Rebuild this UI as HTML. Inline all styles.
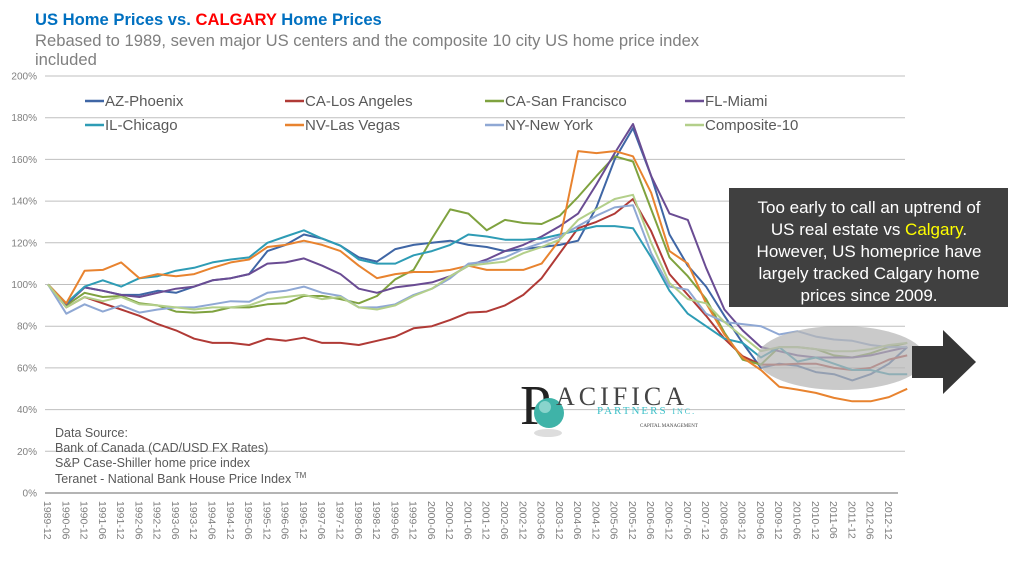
<!DOCTYPE html>
<html><head><meta charset="utf-8">
<style>
body{margin:0;background:#fff;width:1031px;height:565px;overflow:hidden;font-family:"Liberation Sans",sans-serif}
svg{position:absolute;left:0;top:0}
</style></head>
<body>
<svg id="chart" width="1031" height="565" xmlns="http://www.w3.org/2000/svg" font-family="Liberation Sans, sans-serif">
  <text x="35" y="25" font-size="16.6" font-weight="bold" fill="#0070C0">US Home Prices vs. <tspan fill="#FF0000">CALGARY</tspan>  Home Prices</text>
  <text x="35" y="46" font-size="16.6" fill="#7F7F7F">Rebased to 1989, seven major US centers and the composite 10 city US home price index</text>
  <text x="35" y="65" font-size="16.6" fill="#7F7F7F">included</text>
  <g id="grid"></g>
  <g id="series"></g>
  <g id="legend"></g>
  <g id="xlabels"></g>
  <g font-size="12.5" fill="#595959">
    <text x="55" y="437">Data Source:</text>
    <text x="55" y="452">Bank of Canada (CAD/USD FX Rates)</text>
    <text x="55" y="467">S&amp;P Case-Shiller home price index</text>
    <text x="55" y="483">Teranet  - National Bank House Price Index <tspan font-size="8" dy="-5">TM</tspan></text>
  </g>
  <g>
    <ellipse cx="548" cy="433" rx="14" ry="4" fill="#ddd"/>
    <text x="520" y="424" font-family="Liberation Serif, serif" font-size="56" fill="#222">P</text>
    <circle cx="549" cy="413" r="15" fill="#3fb3a8"/>
    <circle cx="545" cy="407" r="6" fill="#a9e3dc" opacity="0.7"/>
    <text x="556" y="405" font-family="Liberation Serif, serif" font-size="26" letter-spacing="4" fill="#444">ACIFICA</text>
    <text x="597" y="414" font-family="Liberation Serif, serif" font-size="11" letter-spacing="2" fill="#3fc0c8">PARTNERS <tspan font-size="8">INC.</tspan></text>
    <text x="640" y="427" font-family="Liberation Serif, serif" font-size="5" fill="#444">CAPITAL MANAGEMENT</text>
  </g>
  <ellipse cx="841" cy="358" rx="84" ry="32" fill="#B5B5B5" opacity="0.72"/>
  <g fill="#363636">
    <rect x="912" y="346" width="32" height="32"/>
    <polygon points="943,330 976,362 943,394"/>
  </g>
  <g>
    <rect x="729" y="188" width="279" height="119" fill="#404040"/>
    <g font-size="17" fill="#fff" text-anchor="middle">
      <text x="869" y="213">Too early to call an uptrend of</text>
      <text x="869" y="235">US real estate vs <tspan fill="#FFFF00">Calgary</tspan>.</text>
      <text x="869" y="257">However, US homeprice have</text>
      <text x="869" y="279">largely tracked Calgary home</text>
      <text x="869" y="301">prices since 2009.</text>
    </g>
  </g>
</svg>
<script>
const xLabels = ["1989-12","1990-06","1990-12","1991-06","1991-12","1992-06","1992-12","1993-06","1993-12","1994-06","1994-12","1995-06","1995-12","1996-06","1996-12","1997-06","1997-12","1998-06","1998-12","1999-06","1999-12","2000-06","2000-12","2001-06","2001-12","2002-06","2002-12","2003-06","2003-12","2004-06","2004-12","2005-06","2005-12","2006-06","2006-12","2007-06","2007-12","2008-06","2008-12","2009-06","2009-12","2010-06","2010-12","2011-06","2011-12","2012-06","2012-12"];
const yTicks = [0,20,40,60,80,100,120,140,160,180,200];
const seriesNames = ["AZ-Phoenix","CA-Los Angeles","CA-San Francisco","FL-Miami","IL-Chicago","NV-Las Vegas","NY-New York","Composite-10"];
const phoenix = [100,90.5,98.6,97,95,95,97,96,99,102,103,105,116,119,124,122,118.6,113,111,117,119,120,121,119,118,116,117,118,119,121,137,160,175,152,124,109,99,85,72,60,62,61,58,57,54,57,62,70];
const losAngeles = [100,89,94,91,88,85,81,78,74,72,72,71,74,73,74.5,72,72,71,73,75,79,80,83,86.5,87,90,95,103,115,127,130,134,141,125.5,105,95,85,74,65.6,61.6,61.6,62,62,60,59,60,64,66];
const sanFrancisco = [100,90,96,94,94.5,91,90,87,86.5,87,89,89,90.5,91,94.5,94.5,93,91,94.5,102.5,107,122,136,134,126,131,129.5,129,133,142,152,161.5,159,136,113,104,93,77,64,61.6,70,70,69,66,65,67,70,72];
const miami = [100,90.5,98.6,97,95,94,96,98,99,102,103,105,110,110.6,112.5,109,105,98,96,98.6,99.7,101,104,109,112,116,119,123,128,134,148,163,177,152,134,131,108,88,78,70,68,66,65,65,65,66,68,70];
const chicago = [100,91,99,102,99,103,104,106.6,108,110.6,112,113,120,123,126,122,118.6,112,110,110,114,116,119,124,123,121.5,121.5,122,124,126,128,128,127,113,97,86,80,74,72,65,70,63,65,62,59,59,57,57];
const lasVegas = [100,91,106.6,107,110.6,103,105,104,105,108,110.6,112,118,119,121,119,116,109,103,105,106,106,107,109,107,107,107,110,121.5,164,163,164,161.5,144,116,110,91,76,65,59,51,49.6,48,45.6,44,44,46,50];
const newYork = [100,86,90.5,87,90,86.5,88,89,89,90.5,92,91.7,96,97,99,96,94.5,89,89,90.5,95,98,103,110,111,113,117,120,123,128,133,137,138,115,99,97.5,86,82,81,80,76,77.6,75,73.6,73,71,70,70];
const composite10 = [100,89,94,92,94,90.5,90,89,88,89,89,90,93,94,95,93,94,89,88,90,94.5,98,104,109,110,111,115,118,121.5,131,136,141,143,120,100.7,93,91,82,75,68,70,70,69,68,68,69,71,72];

const seriesData = [phoenix, losAngeles, sanFrancisco, miami, chicago, lasVegas, newYork, composite10];
const colors = ["#3F66A5","#B03A36","#7FA23F","#6A4C93","#2E9CB5","#E8832F","#8FA8D4","#B3CF8A"];
const NS = "http://www.w3.org/2000/svg";
const X0 = 48, DX = 18.28, Y0 = 493, YS = 2.085;
function xScale(i){ return X0 + i*DX; }
function yScale(v){ return Y0 - v*YS; }
function mk(tag, attrs, parent){ const e=document.createElementNS(NS,tag); for(const k in attrs) e.setAttribute(k,attrs[k]); parent.appendChild(e); return e; }

const grid = document.getElementById('grid');
yTicks.forEach(t=>{
  const y = yScale(t);
  if(t>0){
    const l = mk('line',{x1:45,x2:905,y1:y,y2:y,stroke:'#BFBFBF','stroke-width':1},grid);
    
    
  }
  const tx = mk('text',{x:37,y:y+3.5,'text-anchor':'end','font-size':10,fill:'#7F7F7F'},grid);
  tx.textContent = t+'%';
  
  
});
const axis = mk('line',{x1:45,x2:898,y1:Y0,y2:Y0,stroke:'#868686','stroke-width':1.2},grid);



const xl = document.getElementById('xlabels');
xLabels.forEach((lab,i)=>{
  const x = xScale(i)-4, y = 501;
  const t = mk('text',{x:x,y:y,transform:`rotate(90 ${x} ${y})`,'font-size':10.5,fill:'#7F7F7F'},xl);
  t.textContent = lab;
  
  
});

const sg = document.getElementById('series');
seriesData.forEach((arr,k)=>{
  const d = arr.map((v,i)=>(i?'L':'M')+xScale(i).toFixed(1)+','+yScale(v).toFixed(1)).join(' ');
  const p = mk('path',{d:d,fill:'none',stroke:colors[k],'stroke-width':2,'stroke-linejoin':'round'},sg);
  
  
});

const lg = document.getElementById('legend');
seriesNames.forEach((n,k)=>{
  const col = k%4, row = Math.floor(k/4);
  const x = 85 + col*200, y = 101 + row*24;
  const g = mk('g',{},lg);
  
  
  mk('line',{x1:x,x2:x+19,y1:y,y2:y,stroke:colors[k],'stroke-width':2.5},g);
  const t = mk('text',{x:x+20,y:y+5,'font-size':15,fill:'#595959'},g);
  t.textContent = n;
});
</script>
</body></html>
